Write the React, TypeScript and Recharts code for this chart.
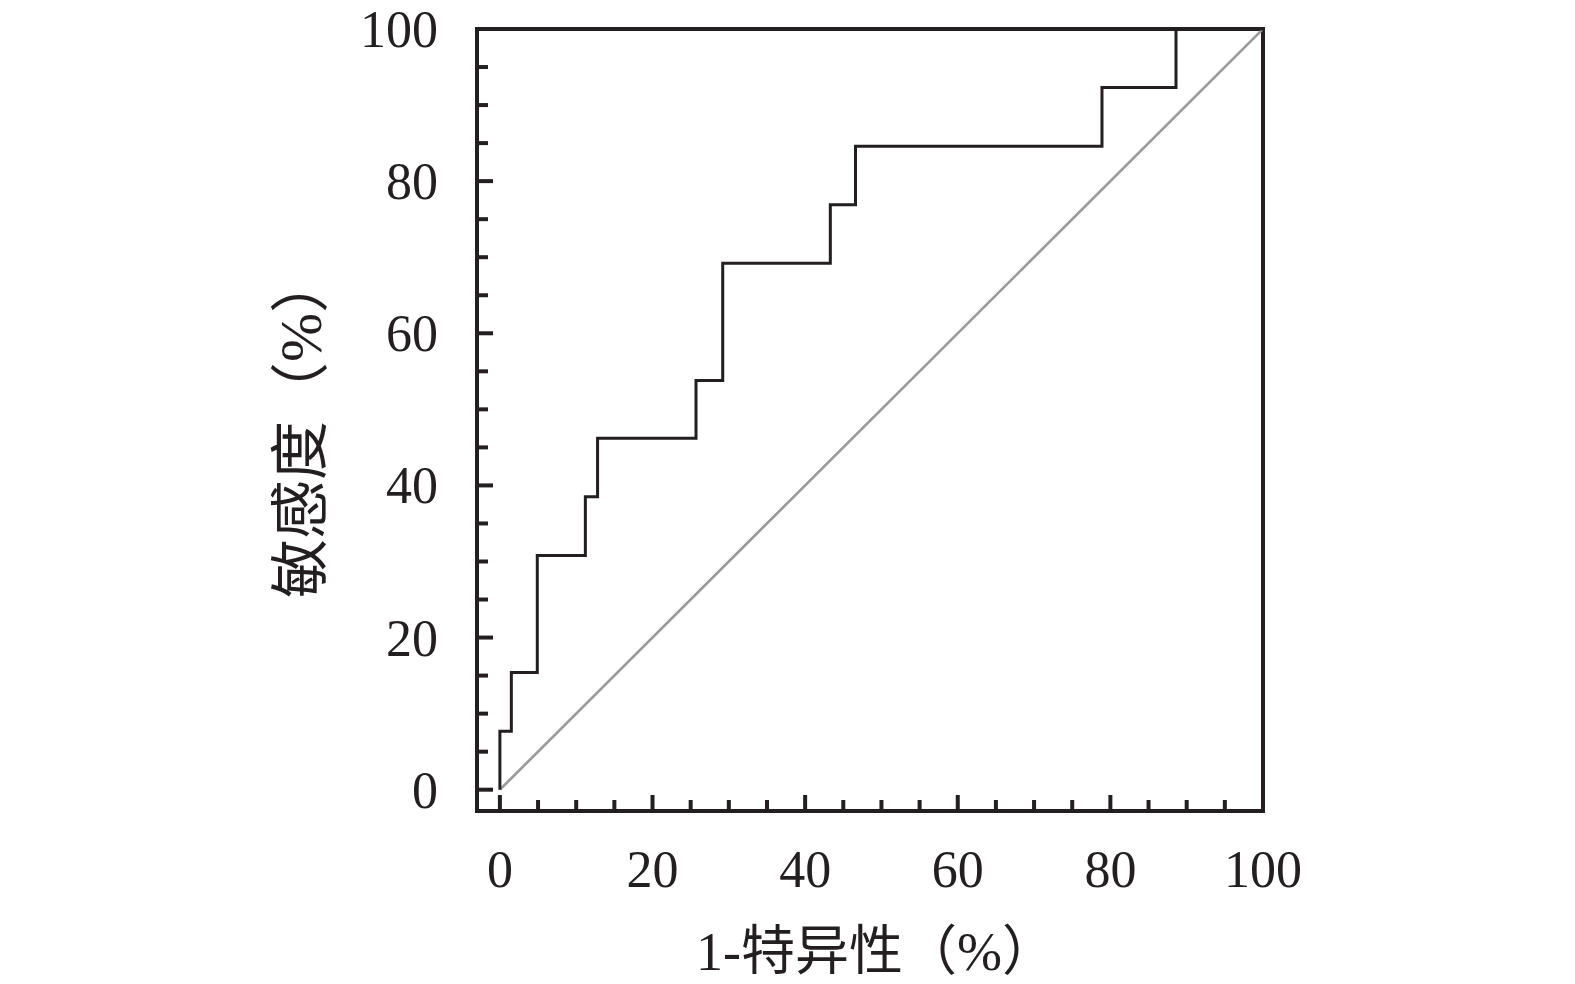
import React from 'react';
import { LineChart, Line, XAxis, YAxis, ReferenceLine, Customized } from 'recharts';

// ROC curve corner values (stepBefore: y changes, then x advances)
const fpr = [0, 1.5, 4.9, 11.2, 12.8, 25.7, 29.2, 43.3, 46.6, 78.9, 88.6, 100];
const tpr = [0, 7.7, 15.4, 30.8, 38.5, 46.2, 53.8, 69.2, 76.9, 84.6, 92.3, 100];
// reference diagonal
const refX = [0, 100];
const refY = [0, 100];
// ticks
const axisTicks = [0, 5, 10, 15, 20, 25, 30, 35, 40, 45, 50, 55, 60, 65, 70, 75, 80, 85, 90, 95, 100];
const labelledTicks = [0, 20, 40, 60, 80, 100];
const xTitle = '1-特异性（%）';
const yTitle = '敏感度（%）';

const rocData = fpr.map((x, i) => ({ x, y: tpr[i] }));
const diagData = refX.map((x, i) => ({ x, y: refY[i] }));

const INK = '#231f20';
const NUM_FONT = "'Liberation Serif', 'DejaVu Serif', serif";
const TITLE_FONT = "'Liberation Serif', 'Noto Sans CJK SC', serif";

const XTick = (props: any) => {
  const { x, y, payload } = props;
  const v = payload.value;
  const major = labelledTicks.includes(v);
  return (
    <g>
      <line x1={x} y1={y} x2={x} y2={y - (major ? 16 : 11)} stroke={INK} strokeWidth={4} />
      {major && (
        <text x={x} y={y + 76} textAnchor="middle" fontFamily={NUM_FONT} fontSize={52} fill={INK}>
          {v}
        </text>
      )}
    </g>
  );
};

const YTick = (props: any) => {
  const { x, y, payload } = props;
  const v = payload.value;
  const major = labelledTicks.includes(v);
  return (
    <g>
      <line x1={x} y1={y} x2={x + (major ? 16 : 11)} y2={y} stroke={INK} strokeWidth={4} />
      {major && (
        <text x={x - 39} y={y + 18} textAnchor="end" fontFamily={NUM_FONT} fontSize={52} fill={INK}>
          {v}
        </text>
      )}
    </g>
  );
};

const Titles = () => (
  <g>
    <text x={876} y={970} textAnchor="middle" fontFamily={TITLE_FONT} fontSize={54} fill={INK}>
      {xTitle}
    </text>
    <text
      x={301}
      y={426}
      textAnchor="middle"
      dominantBaseline="central"
      transform="rotate(-90 301 426)"
      fontFamily={TITLE_FONT}
      fontSize={59}
      fill={INK}
    >
      {yTitle}
    </text>
  </g>
);

export default function App() {
  return (
    <div style={{ position: 'absolute', left: 0, top: 0, width: 1575, height: 984, overflow: 'hidden' }}>
      <LineChart
        width={1575}
        height={984}
        margin={{ top: 29, right: 312, bottom: 113, left: 417 }}
      >
        <XAxis
          dataKey="x"
          type="number"
          domain={[-3, 100]}
          allowDataOverflow
          ticks={axisTicks}
          interval={0}
          tickLine={false}
          tickSize={0}
          tickMargin={0}
          height={60}
          axisLine={{ stroke: INK, strokeWidth: 4, strokeLinecap: 'square' }}
          tick={(p: any) => <XTick {...p} />}
        />
        <YAxis
          dataKey="y"
          type="number"
          domain={[-2.8, 100]}
          allowDataOverflow
          ticks={axisTicks}
          interval={0}
          tickLine={false}
          tickSize={0}
          tickMargin={0}
          width={60}
          axisLine={{ stroke: INK, strokeWidth: 4, strokeLinecap: 'square' }}
          tick={(p: any) => <YTick {...p} />}
        />
        <ReferenceLine y={100} stroke={INK} strokeWidth={4} strokeLinecap="square" />
        <ReferenceLine x={100} stroke={INK} strokeWidth={4} strokeLinecap="square" />
        <Line
          data={diagData}
          dataKey="y"
          type="linear"
          stroke="#999999"
          strokeWidth={2.6}
          dot={false}
          activeDot={false}
          isAnimationActive={false}
        />
        <Line
          data={rocData}
          dataKey="y"
          type="stepBefore"
          stroke={INK}
          strokeWidth={3}
          dot={false}
          activeDot={false}
          isAnimationActive={false}
        />
        <Customized component={Titles} />
      </LineChart>
    </div>
  );
}
